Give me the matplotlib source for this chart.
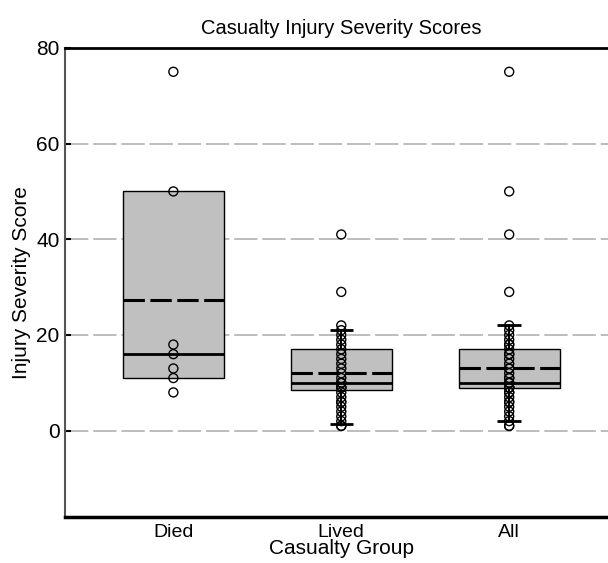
import matplotlib.pyplot as plt
import numpy as np

plt.rcParams['font.family'] = ['Liberation Sans', 'DejaVu Sans']

# groups and summary stats
groups = ['Died', 'Lived', 'All']
q1 = [11, 8.5, 9]
med = [16, 10, 10]
q3 = [50, 17, 17]
means = [27.3, 12.1, 13.2]
whis_lo = [None, 1.3, 2]
whis_hi = [None, 21, 22]

# individual scores drawn as open circles
died_pts = [75, 50, 18, 16, 13, 11, 8]
lived_pts = [1, 1, 2, 3, 4, 5, 6, 6, 7, 8, 9, 9, 9, 10, 10, 10, 11, 12, 13,
             14, 15, 16, 17, 18, 19, 20, 21, 22, 29, 41]
all_pts = died_pts + lived_pts

fig = plt.figure(figsize=(6.08, 5.63), dpi=100)
ax = fig.add_axes([0.107, 0.082, 0.91, 0.833])

pos = np.arange(1, len(groups) + 1)
bw = 0.6

stats = []
for i in range(len(groups)):
    s = dict(med=med[i], q1=q1[i], q3=q3[i], mean=means[i],
             whislo=whis_lo[i] if whis_lo[i] is not None else q1[i],
             whishi=whis_hi[i] if whis_hi[i] is not None else q3[i],
             fliers=[])
    stats.append(s)

ax.bxp(stats, positions=pos, widths=bw, patch_artist=True, showmeans=True,
       meanline=True, showcaps=False,
       boxprops=dict(facecolor='#c0c0c0', edgecolor='black', linewidth=1),
       medianprops=dict(color='black', linewidth=2),
       meanprops=dict(color='black', linewidth=2.2, linestyle=(0, (7, 1.8))),
       whiskerprops=dict(color='black', linewidth=1.5), zorder=2)

# whisker caps only where whiskers exist
for i in range(len(groups)):
    if whis_lo[i] is not None:
        ax.hlines([whis_lo[i], whis_hi[i]], pos[i] - 0.07, pos[i] + 0.07,
                  colors='black', linewidth=2, zorder=3)

for i, pts in enumerate([died_pts, lived_pts, all_pts]):
    ax.scatter(np.full(len(pts), pos[i]), pts, s=42, facecolors='none',
               edgecolors='black', linewidths=1, zorder=4)

ax.set_xlim(0.355, 3.65)
ax.set_ylim(-18, 80)
ax.set_yticks([0, 20, 40, 60, 80])
ax.set_xticks(pos)
ax.set_xticklabels(groups)
ax.tick_params(axis='y', direction='in', length=4, width=1.5, labelsize=15, pad=4)
ax.tick_params(axis='x', length=0, labelsize=14, pad=5)

for y in [0, 20, 40, 60]:
    ax.axhline(y, color='#bdbdbd', linewidth=1.4, linestyle=(0, (12, 2.5)), zorder=0)

ax.spines['top'].set_linewidth(2)
ax.spines['bottom'].set_linewidth(2.5)
ax.spines['left'].set_color('#555555')
ax.spines['left'].set_linewidth(1.5)

ax.set_title('Casualty Injury Severity Scores', fontsize=14.5, pad=10)
ax.set_xlabel('Casualty Group', fontsize=15, labelpad=-1)
ax.set_ylabel('Injury Severity Score', fontsize=15, labelpad=4)

fig.savefig('out.png', dpi=100)
